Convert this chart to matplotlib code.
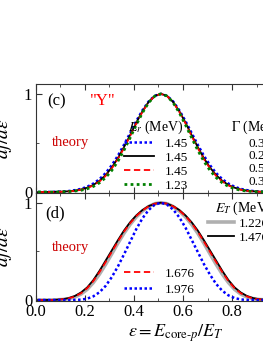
import numpy as np
import matplotlib
matplotlib.use("Agg")
import matplotlib.pyplot as plt
from matplotlib.ticker import MultipleLocator

plt.rcParams['font.family'] = ['Liberation Serif', 'DejaVu Serif']
plt.rcParams['mathtext.fontset'] = 'stix'

# sampling of epsilon = E_core-p / E_T
eps = np.arange(0.01, 0.99, 0.025)

# panel (c): "Y" theory, different E_r / Gamma
c_blue = [0, 0, .001, .003, .005, .010, .019, .032, .054, .086, .131, .193, .273, .370, .482, .602, .723, .833, .922, .980,
          1.0, .980, .922, .833, .723, .602, .482, .370, .273, .193, .131, .086, .054, .032, .019, .010, .005, .003, .001, 0]
c_black = [0, 0, .001, .002, .004, .008, .014, .026, .044, .072, .114, .172, .249, .345, .458, .581, .707, .823, .917, .979,
           1.0, .979, .917, .823, .707, .581, .458, .345, .249, .172, .114, .072, .044, .026, .014, .008, .004, .002, .001, 0]
c_red = [0, 0, 0, .001, .003, .006, .012, .023, .040, .067, .107, .164, .240, .336, .448, .572, .700, .817, .914, .978,
         1.0, .978, .914, .817, .700, .572, .448, .336, .240, .164, .107, .067, .040, .023, .012, .006, .003, .001, 0, 0]
c_green = [0, 0, 0, .001, .002, .005, .010, .018, .033, .057, .094, .147, .220, .314, .427, .554, .685, .808, .910, .977,
           1.0, .977, .910, .808, .685, .554, .427, .314, .220, .147, .094, .057, .033, .018, .010, .005, .002, .001, 0, 0]

Er_labels = ['1.45', '1.45', '1.45', '1.23']
Gamma_labels = ['0.3', '0.2', '0.5', '0.3']

# panel (d): different E_T
d_gray = [0, 0, 0, .002, .005, .014, .031, .062, .11, .18, .267, .367, .475, .585, .688, .778, .855, .915, .96, .99,
          1.0, .99, .96, .915, .855, .778, .688, .585, .475, .367, .267, .18, .11, .062, .031, .014, .005, .002, 0, 0]
d_black = [0, 0, .001, .003, .008, .02, .042, .078, .13, .205, .30, .405, .51, .615, .715, .80, .87, .925, .965, .99,
           1.0, .99, .965, .925, .87, .80, .715, .615, .51, .405, .30, .205, .13, .078, .042, .02, .008, .003, .001, 0]
d_red = [0, 0, 0, .002, .007, .017, .037, .07, .122, .195, .287, .39, .495, .602, .703, .79, .864, .92, .963, .99,
         1.0, .99, .963, .92, .864, .79, .703, .602, .495, .39, .287, .195, .122, .07, .037, .017, .007, .002, 0, 0]
d_blue = [0, 0, 0, 0, 0, 0, .001, .004, .014, .038, .08, .145, .235, .345, .47, .60, .73, .84, .925, .98,
          1.0, .98, .93, .85, .745, .62, .495, .37, .26, .165, .095, .048, .02, .006, .001, 0, 0, 0, 0, 0]
ET_labels = ['1.226', '1.476', '1.676', '1.976']

fig = plt.figure(figsize=(2.63, 3.41), dpi=100)
axc = fig.add_axes([0.1354, 0.434, 0.934, 0.3196])
axd = fig.add_axes([0.1354, 0.1173, 0.934, 0.3167])

blue_ls = (0, (1, 1))
green_ls = (0, (1, 1.2))
red_ls = (0, (3.5, 2))

lb, = axc.plot(eps, c_blue, color='#0000ff', ls=blue_ls, lw=1.8)
lk, = axc.plot(eps, c_black, color='black', lw=1.3)
lr, = axc.plot(eps, c_red, color='#ff0000', ls=red_ls, lw=1.3)
lg, = axc.plot(eps, c_green, color='#008000', ls=green_ls, lw=2.0)

gd, = axd.plot(eps, d_gray, color='#b0b0b0', lw=2.6)
kd, = axd.plot(eps, d_black, color='black', lw=1.3)
rd, = axd.plot(eps, d_red, color='#ff0000', ls=red_ls, lw=1.3)
bd, = axd.plot(eps, d_blue, color='#0000ff', ls=blue_ls, lw=1.8)

for ax in (axc, axd):
    ax.set_xlim(0, 1.0)
    ax.set_ylim(-0.01, 1.1)
    ax.xaxis.set_major_locator(MultipleLocator(0.2))
    ax.xaxis.set_minor_locator(MultipleLocator(0.1))
    ax.set_yticks([0, 1])
    ax.yaxis.set_minor_locator(MultipleLocator(0.5))
    ax.tick_params(which='both', direction='in', top=True, right=True,
                   labelsize=12, pad=2.5, color='#333333')
    ax.tick_params(which='major', length=4)
    ax.tick_params(which='minor', length=2.5)
    for s in ax.spines.values():
        s.set_color('#333333')
        s.set_linewidth(0.8)
    ax.set_ylabel(r'$dj/d\varepsilon$', fontsize=14, labelpad=2)
    ax.yaxis.set_label_coords(-0.09, 0.5)
axc.tick_params(labelbottom=False)
axd.set_xticks([0, 0.2, 0.4, 0.6, 0.8, 1.0])
axd.set_xticklabels(['0.0', '0.2', '0.4', '0.6', '0.8', '1.0'])
axd.set_xlabel(r'$\varepsilon = E_{\text{core-}p}/E_T$', fontsize=13)
axd.xaxis.set_label_coords(0.571, -0.2)

# panel (c) annotations
axc.text(0.046, 0.844, '(c)', transform=axc.transAxes, fontsize=12, va='center')
axc.text(0.221, 0.844, '"Y"', transform=axc.transAxes, fontsize=12, va='center', color='#ff0000')
axc.text(0.067, 0.459, 'theory', transform=axc.transAxes, fontsize=10.5, va='center', color='#cc0000')
axc.legend([lb, lk, lr, lg], Er_labels, title=r'$E_r$ (MeV)', loc='upper left',
           bbox_to_anchor=(0.36, 0.68), frameon=False, fontsize=9.5, title_fontsize=10,
           handlelength=2.3, handletextpad=0.8, labelspacing=0.12, borderpad=0, borderaxespad=0)
axc.text(0.795, 0.606, r'$\Gamma$ (MeV)', transform=axc.transAxes, fontsize=10, va='center')
for i, g in enumerate(Gamma_labels):
    axc.text(0.868, 0.45 - 0.115 * i, g, transform=axc.transAxes, fontsize=9.5, va='center')

# panel (d) annotations
axd.text(0.038, 0.815, '(d)', transform=axd.transAxes, fontsize=12, va='center')
axd.text(0.067, 0.5, 'theory', transform=axd.transAxes, fontsize=10.5, va='center', color='#cc0000')
axd.text(0.73, 0.86, r'$E_T$ (MeV)', transform=axd.transAxes, fontsize=10, va='center')
leg1 = axd.legend([gd, kd], ET_labels[:2], loc='upper left',
                  bbox_to_anchor=(0.70, 0.77), frameon=False, fontsize=9.5,
                  handlelength=2.0, handletextpad=0.4, labelspacing=0.1, borderpad=0, borderaxespad=0)
axd.add_artist(leg1)
axd.legend([rd, bd], ET_labels[2:], loc='upper left', bbox_to_anchor=(0.36, 0.31),
           frameon=False, fontsize=9.5, handlelength=2.3, handletextpad=0.8, labelspacing=0.3,
           borderpad=0, borderaxespad=0)

fig.savefig('out.png', dpi=100)
